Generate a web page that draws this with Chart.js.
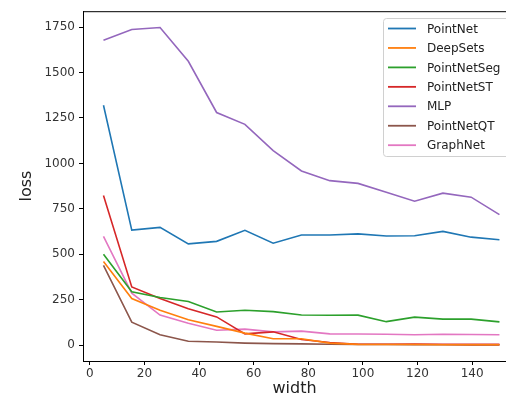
<!DOCTYPE html>
<html>
<head>
<meta charset="utf-8">
<script src="https://cdn.jsdelivr.net/npm/chart.js@4.4.1/dist/chart.umd.min.js"></script>
<style>
	html, body { margin: 0; padding: 0; background: #fff; }
	#wrap { width: 506px; height: 404px; }
</style>
</head>
<body>
<div id="wrap"><canvas id="loss-chart" width="506" height="404"></canvas></div>
<script>
const widths = [5, 15.36, 25.71, 36.07, 46.43, 56.79, 67.14, 77.5, 87.86, 98.21, 108.57, 118.93, 129.29, 139.64, 150];

const pointNet    = [1320, 633, 648, 557, 571, 632, 561, 606, 606, 612, 600, 602, 626, 594, 580];
const deepSets    = [460, 256, 192, 140, 103, 66, 35, 35, 11, 4, 3, 3, 2, 2, 2];
const pointNetSeg = [500, 294, 262, 240, 182, 192, 184, 166, 164, 165, 129, 154, 143, 143, 128];
const pointNetST  = [823, 320, 256, 200, 155, 62, 73, 31, 14, 5, 5, 6, 5, 4, 4];
const mlp         = [1677, 1737, 1748, 1562, 1280, 1215, 1070, 958, 905, 890, 841, 792, 836, 814, 718];
const pointNetQT  = [439, 126, 57, 21, 17, 11, 8, 7, 5, 3, 3, 2, 2, 1, 1];
const graphNet    = [598, 286, 165, 120, 82, 88, 73, 77, 62, 61, 60, 57, 60, 58, 57];

const xTicks = [0, 20, 40, 60, 80, 100, 120, 140];
const yTicks = [0, 250, 500, 750, 1000, 1250, 1500, 1750];

const series = [
	{ label: "PointNet", values: pointNet, color: "#1f77b4" },
	{ label: "DeepSets", values: deepSets, color: "#ff7f0e" },
	{ label: "PointNetSeg", values: pointNetSeg, color: "#2ca02c" },
	{ label: "PointNetST", values: pointNetST, color: "#d62728" },
	{ label: "MLP", values: mlp, color: "#9467bd" },
	{ label: "PointNetQT", values: pointNetQT, color: "#8c564b" },
	{ label: "GraphNet", values: graphNet, color: "#e377c2" }
];

const font = "DejaVu Sans";

// top spine + legend box like matplotlib
const frameAndLegend = {
	id: "frameAndLegend",
	afterDraw(chart) {
		const ctx = chart.ctx;
		const a = chart.chartArea;
		ctx.save();
		ctx.strokeStyle = "#000";
		ctx.lineWidth = 1;
		ctx.beginPath();
		ctx.moveTo(a.left, a.top + 0.5);
		ctx.lineTo(a.right + 10, a.top + 0.5);
		ctx.stroke();

		// legend
		const bx = 383, by = 18, bw = 140, bh = 138;
		ctx.fillStyle = "rgba(255,255,255,0.8)";
		ctx.strokeStyle = "#d0d0d0";
		ctx.beginPath();
		ctx.roundRect(bx + 0.5, by + 0.5, bw, bh, 3);
		ctx.fill();
		ctx.stroke();
		ctx.font = "12px '" + font + "'";
		ctx.textBaseline = "middle";
		chart.data.datasets.forEach(function (ds, i) {
			const y = 28.5 + i * 19.45;
			ctx.strokeStyle = ds.borderColor;
			ctx.lineWidth = 1.8;
			ctx.beginPath();
			ctx.moveTo(388, y);
			ctx.lineTo(416, y);
			ctx.stroke();
			ctx.fillStyle = "#222";
			ctx.fillText(ds.label, 427, y + 1);
		});
		ctx.restore();
	}
};

new Chart(document.querySelector("#loss-chart"), {
	type: "line",
	data: {
		datasets: series.map(function (s) {
			return {
				label: s.label,
				data: s.values.map(function (v, i) { return { x: widths[i], y: v }; }),
				borderColor: s.color,
				backgroundColor: s.color,
				borderWidth: 1.6,
				pointRadius: 0,
				tension: 0,
				fill: false
			};
		})
	},
	options: {
		responsive: false,
		animation: false,
		layout: { padding: { top: 11, right: 0, left: 17, bottom: 6 } },
		plugins: {
			legend: { display: false },
			tooltip: { enabled: false }
		},
		scales: {
			x: {
				type: "linear",
				min: -2.5,
				max: 152.4,
				afterBuildTicks: function (scale) {
					scale.ticks = xTicks.map(function (v) { return { value: v }; });
				},
				afterFit: function (scale) { scale.height = 37; },
				grid: { drawOnChartArea: false, drawTicks: true, tickLength: 4, color: "#000" },
				border: { color: "#000", width: 1 },
				ticks: {
					color: "#333", padding: 2, maxRotation: 0,
					font: { family: font, size: 12 },
					callback: function (v) { return String(v); }
				},
				title: {
					display: true,
					text: "width",
					color: "#222",
					padding: { top: 0, bottom: 0 },
					font: { family: font, size: 16 }
				}
			},
			y: {
				min: -87.5,
				max: 1837.5,
				afterBuildTicks: function (scale) {
					scale.ticks = yTicks.map(function (v) { return { value: v }; });
				},
				afterFit: function (scale) { scale.width = 66; },
				grid: { drawOnChartArea: false, drawTicks: true, tickLength: 4, color: "#000" },
				border: { color: "#000", width: 1 },
				ticks: {
					color: "#333", padding: 4,
					font: { family: font, size: 12 },
					callback: function (v) { return String(v); }
				},
				title: {
					display: true,
					text: "loss",
					color: "#222",
					padding: { top: 0, bottom: 0 },
					font: { family: font, size: 16 }
				}
			}
		}
	},
	plugins: [frameAndLegend]
});
</script>
</body>
</html>
